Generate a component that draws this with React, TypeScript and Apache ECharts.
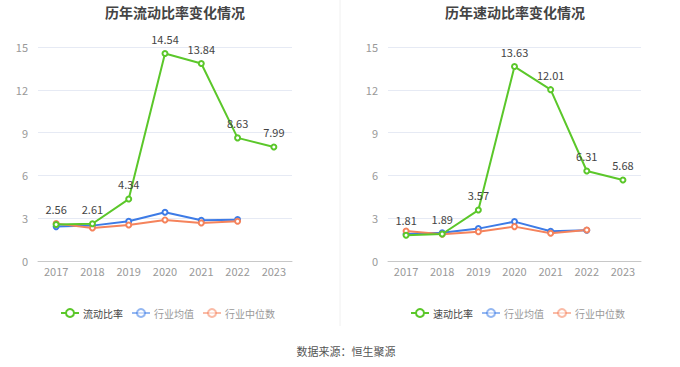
import React, { useEffect, useRef } from "react";
import * as echarts from "echarts";

const years = ["2017", "2018", "2019", "2020", "2021", "2022", "2023"];
const currentRatio = [2.56, 2.61, 4.34, 14.54, 13.84, 8.63, 7.99];
const currentAvg = [2.41, 2.48, 2.78, 3.42, 2.85, 2.9, null];
const currentMedian = [2.62, 2.31, 2.52, 2.88, 2.67, 2.78, null];
const quickRatio = [1.81, 1.89, 3.57, 13.63, 12.01, 6.31, 5.68];
const quickAvg = [1.89, 1.98, 2.27, 2.76, 2.08, 2.15, null];
const quickMedian = [2.1, 1.87, 2.05, 2.41, 1.94, 2.17, null];
const yTicks = { min: 0, max: 15, interval: 3 };

const GREEN = "#5bc72a";
const BLUE = "#3d7be6";
const ORANGE = "#f5835c";

export default function App() {
  const ref = useRef<HTMLDivElement>(null);
  useEffect(() => {
    if (!ref.current) return;
    const chart = echarts.init(ref.current, null, { renderer: "svg" });
    const font = "'Microsoft YaHei', 'Noto Sans CJK SC', sans-serif";
    const grids = [
      { left: 38, width: 254, top: 47, height: 214 },
      { left: 388, width: 253, top: 47, height: 214 },
    ];
    const xAxis = grids.map((_, i) => ({
      type: "category",
      gridIndex: i,
      data: years,
      axisLine: { lineStyle: { color: "#c8c8c8" } },
      axisTick: { alignWithLabel: true, length: 4, lineStyle: { color: "#c8c8c8" } },
      axisLabel: { color: "#999", fontSize: 11, fontFamily: font, margin: 4 },
    }));
    const yAxis = grids.map((_, i) => ({
      type: "value",
      gridIndex: i,
      min: yTicks.min,
      max: yTicks.max,
      interval: yTicks.interval,
      axisLine: { show: false },
      axisTick: { show: false },
      axisLabel: { color: "#999", fontSize: 11, fontFamily: font, margin: 10 },
      splitLine: { lineStyle: { color: "#e6eaf4" } },
    }));
    const mk = (name: string, data: any[], color: string, idx: number, label: boolean, z: number) => ({
      name,
      type: "line",
      xAxisIndex: idx,
      yAxisIndex: idx,
      data,
      symbol: "emptyCircle",
      symbolSize: 5,
      z,
      lineStyle: { color, width: 2 },
      itemStyle: { color },
      label: label
        ? { show: true, position: "top", color: "#444", fontSize: 11, fontFamily: font, distance: 6 }
        : { show: false },
    });
    const legendData = (first: string) => [
      { name: first, textStyle: { color: "#444" } },
      { name: "行业均值", textStyle: { color: "#999" }, itemStyle: { opacity: 0.55 }, lineStyle: { opacity: 0.55 } },
      { name: "行业中位数", textStyle: { color: "#999" }, itemStyle: { opacity: 0.55 }, lineStyle: { opacity: 0.55 } },
    ];
    const legendCommon = {
      top: 303,
      itemWidth: 18,
      itemHeight: 10,
      itemGap: 8,
      textStyle: { fontSize: 10, fontFamily: font, padding: [0, 0, 0, -1] },
      selectedMode: false,
    };
    chart.setOption({
      animation: false,
      title: [
        { text: "历年流动比率变化情况", left: 170, textAlign: "center", top: 0, textStyle: { fontSize: 14, fontWeight: "bold", color: "#444", fontFamily: font } },
        { text: "历年速动比率变化情况", left: 510, textAlign: "center", top: 0, textStyle: { fontSize: 14, fontWeight: "bold", color: "#444", fontFamily: font } },
        { text: "数据来源：恒生聚源", left: 341, textAlign: "center", top: 340, textStyle: { fontSize: 11, fontWeight: "normal", color: "#555", fontFamily: font } },
      ],
      legend: [
        { ...legendCommon, data: legendData("流动比率"), left: 55 },
        { ...legendCommon, data: legendData("速动比率"), left: 405 },
      ],
      grid: grids,
      xAxis,
      yAxis,
      series: [
        mk("行业均值", currentAvg, BLUE, 0, false, 2),
        mk("行业中位数", currentMedian, ORANGE, 0, false, 2),
        mk("流动比率", currentRatio, GREEN, 0, true, 3),
        mk("行业均值", quickAvg, BLUE, 1, false, 2),
        mk("行业中位数", quickMedian, ORANGE, 1, false, 2),
        mk("速动比率", quickRatio, GREEN, 1, true, 3),
      ],
      graphic: [
        { type: "line", shape: { x1: 340, y1: 0, x2: 340, y2: 326 }, style: { stroke: "#f0f0f0", lineWidth: 1 } },
      ],
    });
    return () => chart.dispose();
  }, []);
  return <div ref={ref} style={{ position: "fixed", left: 0, top: 0, width: 680, height: 367, background: "#fff" }} />;
}
